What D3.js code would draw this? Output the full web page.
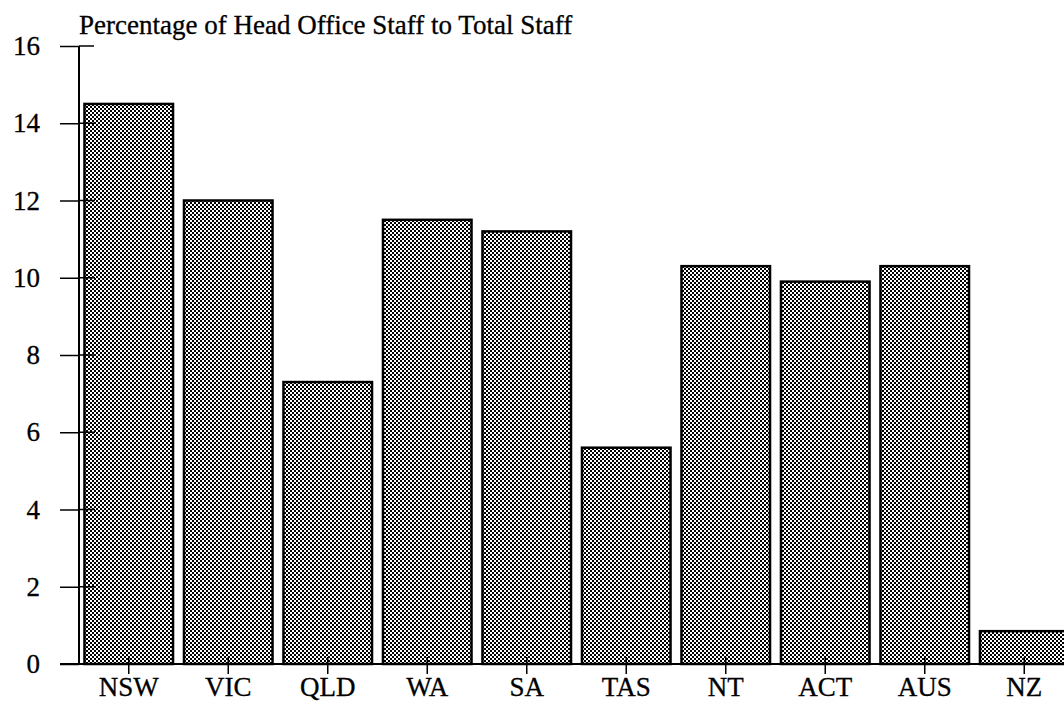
<!DOCTYPE html>
<html>
<head>
<meta charset="utf-8">
<script src="https://cdn.jsdelivr.net/npm/d3@7"></script>
<style>
  body { margin: 0; background: #fff; }
  text { font-family: "Liberation Serif", "Times New Roman", serif; fill: #000; }
</style>
</head>
<body>
<div id="chart"></div>
<script>
var regions = ["NSW", "VIC", "QLD", "WA", "SA", "TAS", "NT", "ACT", "AUS", "NZ"];
var percentages = [14.5, 12.0, 7.3, 11.5, 11.2, 5.6, 10.3, 9.9, 10.3, 0.85];
var yTicks = [0, 2, 4, 6, 8, 10, 12, 14, 16];
var title = "Percentage of Head Office Staff to Total Staff";

var width = 1064, height = 701;
var axisX = 79, baseY = 664, topY = 46;

var svg = d3.select("#chart").append("svg")
    .attr("width", width)
    .attr("height", height);

// checker fill like the old dithered grey
var pat = svg.append("defs").append("pattern")
    .attr("id", "dither")
    .attr("width", 4).attr("height", 4)
    .attr("patternUnits", "userSpaceOnUse");
pat.append("rect").attr("width", 4).attr("height", 4).attr("fill", "#fff");
pat.append("rect").attr("x", 0).attr("y", 0).attr("width", 2).attr("height", 2).attr("fill", "#000");
pat.append("rect").attr("x", 2).attr("y", 2).attr("width", 2).attr("height", 2).attr("fill", "#000");

var x = d3.scaleBand()
  .domain(regions)
  .range([axisX, axisX + 995])
  .paddingInner(0.11)
  .paddingOuter(0.055);

var y = d3.scaleLinear()
  .domain([0, 16])
  .range([baseY, topY]);

svg.append("text")
  .attr("x", 79)
  .attr("y", 34)
  .attr("font-size", 27)
  .attr("stroke", "#000")
  .attr("stroke-width", 0.3)
  .text(title);

svg.selectAll(".bar")
  .data(percentages)
  .enter().append("rect")
    .attr("class", "bar")
    .attr("x", function(d, i) { return x(regions[i]); })
    .attr("width", x.bandwidth())
    .attr("y", function(d) { return y(d); })
    .attr("height", function(d) { return baseY - y(d); })
    .attr("fill", "url(#dither)")
    .attr("stroke", "#000")
    .attr("stroke-width", 2.5);

// y axis: ticks cross the axis line
var yAxis = svg.append("g")
  .attr("transform", "translate(" + axisX + ",0)")
  .call(d3.axisLeft(y).tickValues(yTicks).tickSize(19).tickPadding(20));
yAxis.select(".domain").remove();
yAxis.selectAll("line").attr("stroke", "#000").attr("stroke-width", 1.5);
yAxis.selectAll("text")
  .attr("font-size", 27)
  .attr("font-family", "Liberation Serif")
  .attr("fill", "#000")
  .attr("stroke", "#000")
  .attr("stroke-width", 0.3);

svg.append("g")
  .selectAll("line")
  .data(yTicks)
  .enter().append("line")
    .attr("x1", axisX)
    .attr("x2", function(d) { return d === 16 ? axisX + 15 : axisX + 16; })
    .attr("y1", function(d) { return y(d); })
    .attr("y2", function(d) { return y(d); })
    .attr("stroke", "#000")
    .attr("stroke-width", 1.5);

svg.append("line")
  .attr("x1", axisX).attr("x2", axisX)
  .attr("y1", topY).attr("y2", baseY)
  .attr("stroke", "#000")
  .attr("stroke-width", 2);

// x axis
var xAxis = svg.append("g")
  .attr("transform", "translate(0," + baseY + ")")
  .call(d3.axisBottom(x).tickSize(10).tickPadding(3));
xAxis.select(".domain").remove();
xAxis.selectAll("line").attr("stroke", "#000").attr("stroke-width", 1.5).attr("y1", -7);
xAxis.selectAll("text")
  .attr("font-size", 27)
  .attr("font-family", "Liberation Serif")
  .attr("fill", "#000")
  .attr("stroke", "#000")
  .attr("stroke-width", 0.3);

svg.append("line")
  .attr("x1", 60).attr("x2", width)
  .attr("y1", baseY).attr("y2", baseY)
  .attr("stroke", "#000")
  .attr("stroke-width", 2);
</script>
</body>
</html>
